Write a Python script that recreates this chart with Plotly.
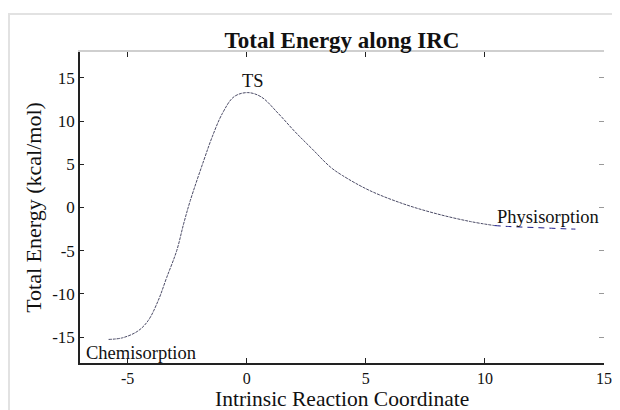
import plotly.graph_objects as go

# Curve (IRC coordinate vs total energy, kcal/mol)
irc_x = [-5.80, -5.21, -4.57, -4.14, -3.72, -3.36, -2.94, -2.65, -2.37, -1.80, -1.45,
         -1.02, -0.53, 0.04, 0.61, 1.32, 2.03, 2.74, 3.51, 4.01, 5.15, 6.57, 7.98,
         9.40, 10.4]
energy = [-15.27, -15.08, -14.3, -13.1, -10.8, -8.1, -5.0, -1.9, 0.8, 5.47, 8.17,
          10.9, 12.83, 13.3, 12.8, 10.9, 8.76, 6.8, 4.69, 3.72, 1.98, 0.43, -0.73,
          -1.63, -2.09]
tail_x = [10.4, 11.0, 11.6, 12.2, 12.8, 13.4, 13.8]
tail_y = [-2.09, -2.2, -2.27, -2.33, -2.4, -2.47, -2.5]

x_ticks = [-5, 0, 5, 10, 15]
x_ticktext = ["-5", "0", "5", "10", "15"]
y_ticks = [-15, -10, -5, 0, 5, 10, 15]
y_ticktext = ["-15", "-10", "-5", "0", "5", "10", "15"]

labels = ["TS", "Chemisorption", "Physisorption"]
label_x = [0.25, -4.45, 12.66]
label_y = [14.6, -16.8, -1.1]

x_title = "Intrinsic Reaction Coordinate"
y_title = "Total Energy (kcal/mol)"

FONT = "Liberation Serif, Times New Roman, serif"

fig = go.Figure()
fig.add_trace(go.Scatter(x=irc_x, y=energy, mode="lines", line_shape="spline",
                         line=dict(color="#4b4b66", width=1, dash="3px,1px"),
                         showlegend=False, hoverinfo="skip"))
fig.add_trace(go.Scatter(x=tail_x, y=tail_y, mode="lines", line_shape="spline",
                         line=dict(color="#1c1c8c", width=1, dash="6px,5px"),
                         showlegend=False, hoverinfo="skip"))
# invisible trace so the mirrored top/right axes are drawn
fig.add_trace(go.Scatter(x=[None], y=[None], xaxis="x2", yaxis="y2",
                         showlegend=False, hoverinfo="skip"))

for t, lx, ly in zip(labels, label_x, label_y):
    fig.add_annotation(x=lx, y=ly, text=t, showarrow=False,
                       font=dict(family=FONT, size=18.5, color="#111"),
                       xanchor="center", yanchor="middle")

# x-axis title as annotation (kept fully inside the page)
fig.add_annotation(x=0.5, y=0, xref="paper", yref="paper", text=x_title,
                   showarrow=False, xanchor="center", yanchor="middle", yshift=-36,
                   font=dict(family=FONT, size=21.5, color="#111"))

fig.update_layout(
    width=620, height=410,
    margin=dict(l=72, r=24, t=44, b=55, autoexpand=False),
    paper_bgcolor="white", plot_bgcolor="white",
    font=dict(family=FONT, color="#111"),
    title=dict(text="<b>Total Energy along IRC</b>", x=0.5, xref="paper", xanchor="center",
               y=0.922, yanchor="middle", font=dict(family=FONT, size=23, color="#111")),
    xaxis=dict(range=[-7, 15], tickvals=x_ticks, ticktext=x_ticktext,
               showgrid=False, zeroline=False, automargin=False,
               showline=True, linecolor="#222", linewidth=1.5,
               ticks="inside", ticklen=5, tickcolor="#222", ticklabelstandoff=0,
               tickfont=dict(family=FONT, size=16, color="#111")),
    yaxis=dict(range=[-18, 18], tickvals=y_ticks, ticktext=y_ticktext,
               showgrid=False, zeroline=False, automargin=False,
               showline=True, linecolor="#222", linewidth=1.5,
               ticks="inside", ticklen=4, tickcolor="#222",
               tickfont=dict(family=FONT, size=17, color="#111"),
               title=dict(text=y_title, standoff=4,
                          font=dict(family=FONT, size=22, color="#111"))),
    xaxis2=dict(range=[-7, 15], tickvals=x_ticks, overlaying="x", side="top",
                anchor="y2", showgrid=False, zeroline=False, showline=True,
                automargin=False,
                linecolor="#cfcfcf", linewidth=1.5, ticks="inside", ticklen=5,
                tickcolor="#222", showticklabels=False),
    yaxis2=dict(range=[-18, 18], tickvals=y_ticks, overlaying="y", side="right",
                anchor="x2", showgrid=False, zeroline=False, showline=False,
                automargin=False,
                ticks="inside", ticklen=5, tickcolor="#999", showticklabels=False),
    shapes=[dict(type="rect", xref="paper", yref="paper",
                 x0=-0.1355, x1=1.2, y0=-0.2, y1=1.1222,
                 line=dict(color="#e2e2e2", width=2), fillcolor="rgba(0,0,0,0)",
                 layer="below")],
)

fig.write_html("out.html")
